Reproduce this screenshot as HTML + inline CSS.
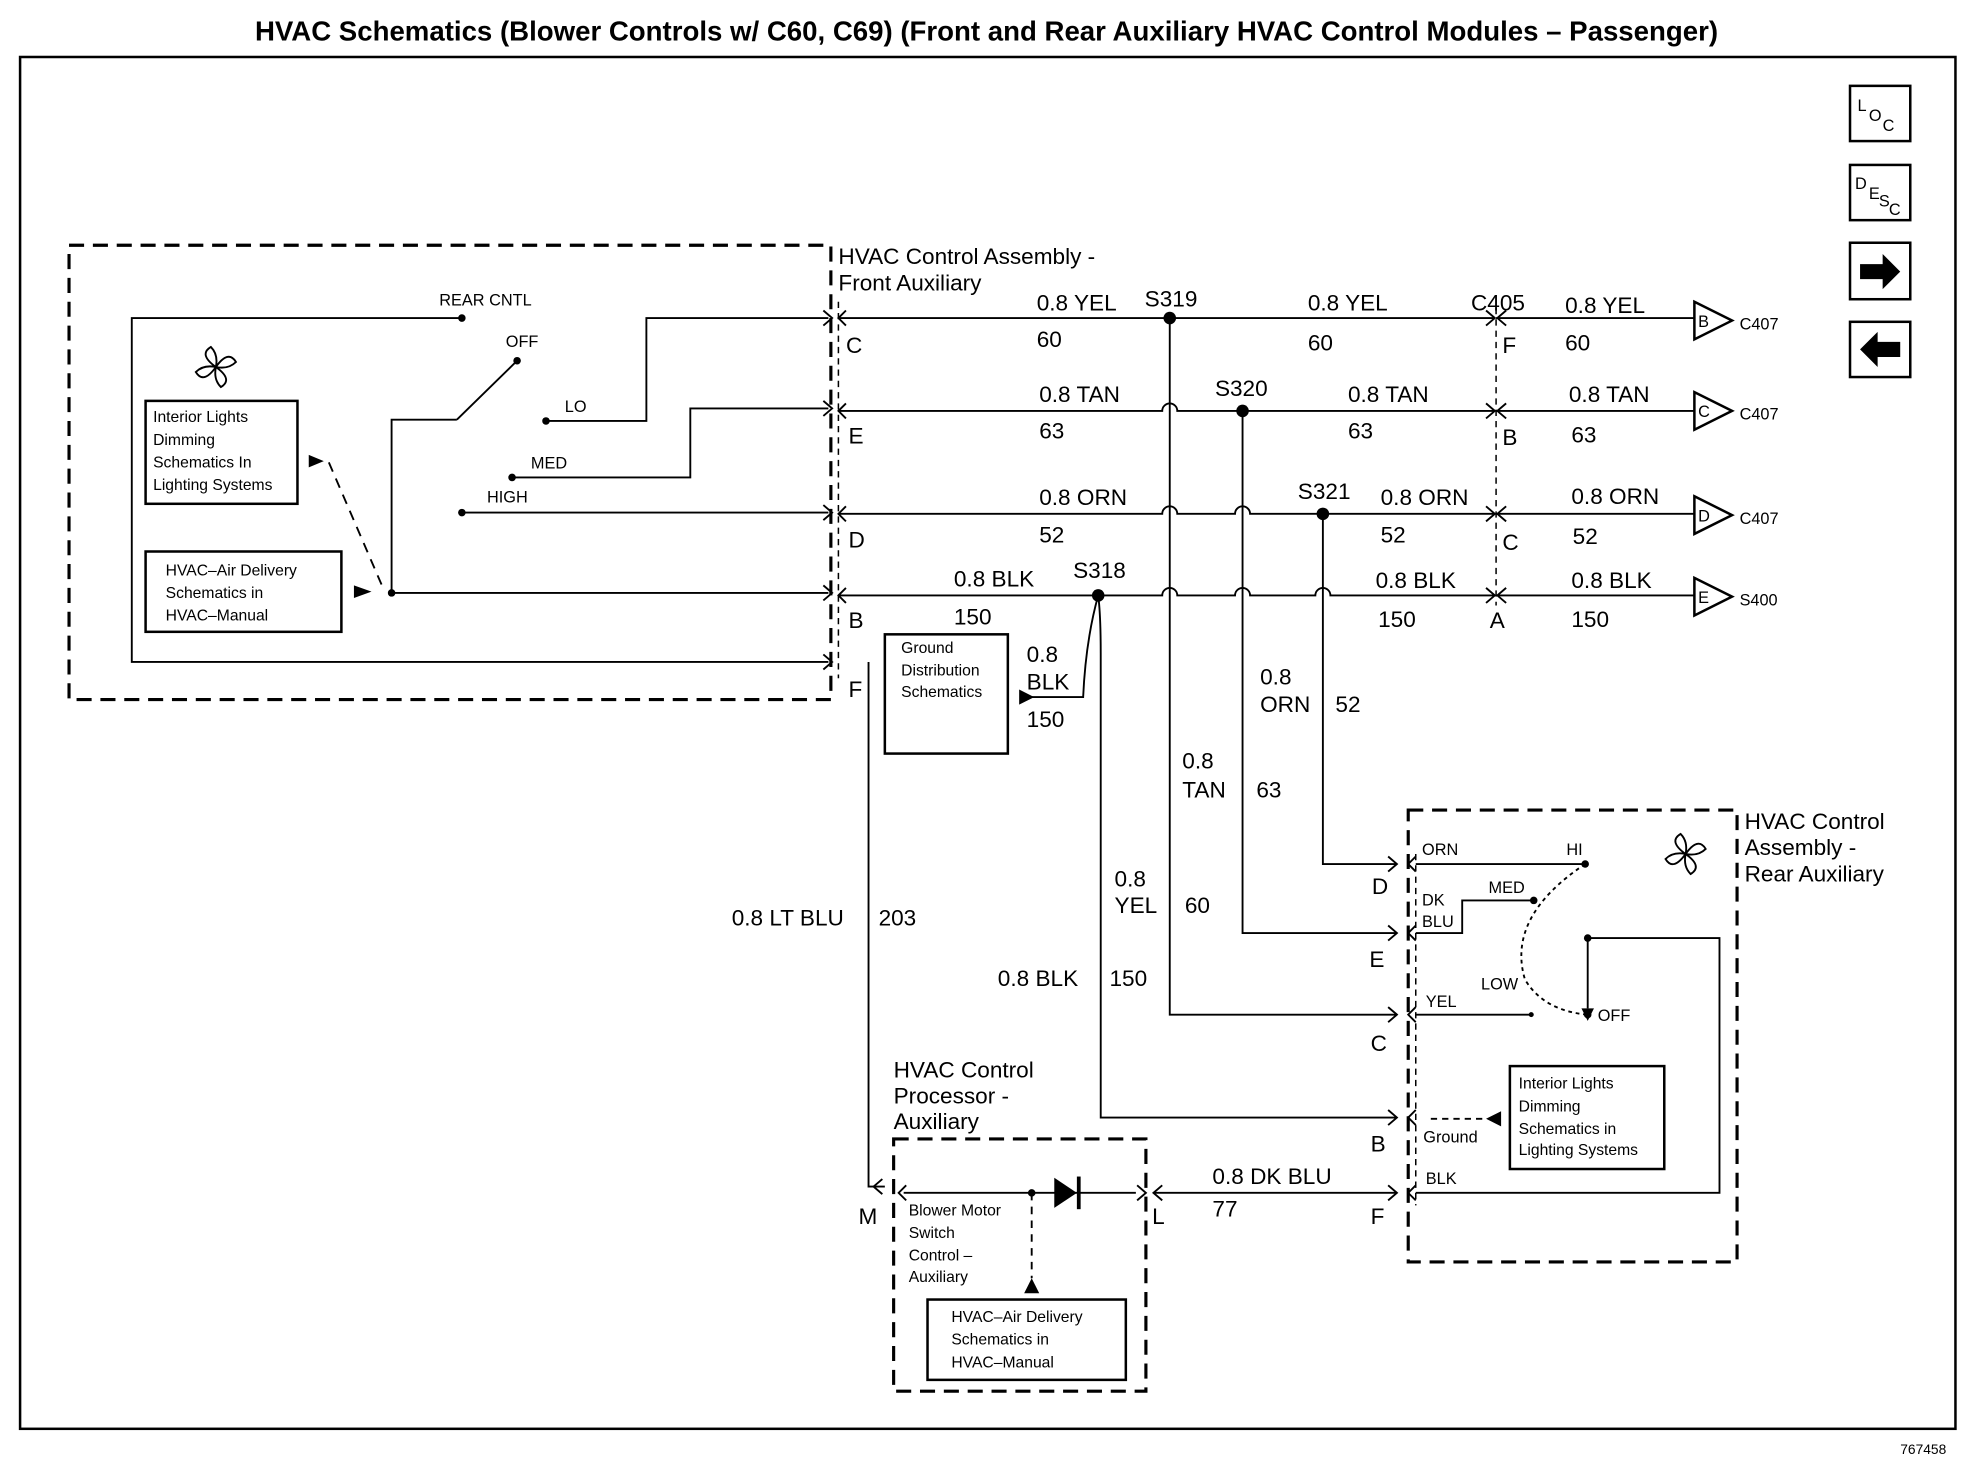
<!DOCTYPE html>
<html><head><meta charset="utf-8"><style>
html,body{margin:0;padding:0;background:#fff;}
svg{display:block;}
text{font-family:"Liberation Sans",Arial,sans-serif;fill:#000;}
</style></head><body>
<svg width="1968" height="1472" viewBox="0 0 1568 1172" xmlns="http://www.w3.org/2000/svg">
<g fill="none" stroke="#000" stroke-width="2">
<rect x="16" y="45" width="1542" height="1093"/>
<rect x="1474" y="68" width="48" height="44"/>
<rect x="1474" y="131" width="48" height="44"/>
<rect x="1474" y="193" width="48" height="45"/>
<rect x="1474" y="256" width="48" height="44"/>
<rect x="55" y="195" width="607" height="362" stroke-dasharray="12,7" stroke-width="2.5"/>
<line x1="668" y1="240" x2="668" y2="540" stroke-dasharray="5,4" stroke-width="1.2"/>
<line x1="1192" y1="245" x2="1192" y2="482" stroke-dasharray="5,4" stroke-width="1.2"/>
<rect x="1122" y="645" width="262" height="360" stroke-dasharray="12,7" stroke-width="2.5"/>
<line x1="1128" y1="680" x2="1128" y2="960" stroke-dasharray="5,4" stroke-width="1.2"/>
<rect x="712" y="907" width="201" height="201" stroke-dasharray="12,7" stroke-width="2.5"/>
<rect x="116" y="319" width="121" height="82"/>
<rect x="116" y="439" width="156" height="64"/>
<rect x="705" y="505" width="98" height="95"/>
<rect x="1203" y="849" width="123" height="82"/>
<rect x="739" y="1035" width="158" height="64"/>
<polyline points="368,253 105,253 105,527 660,527" stroke-width="1.5"/>
<polyline points="435,335 515,335 515,253 660,253" stroke-width="1.5"/>
<polyline points="408,380 550,380 550,325 660,325" stroke-width="1.5"/>
<line x1="368" y1="408" x2="660" y2="408" stroke-width="1.5"/>
<polyline points="364,334 312,334 312,472 660,472" stroke-width="1.5"/>
<line x1="364" y1="334" x2="412" y2="287" stroke-width="1.5"/>
<line x1="262" y1="368" x2="306" y2="470" stroke-dasharray="8,6" stroke-width="1.5"/>
<path d="M668,253 H1190 M1192,253 H1350" stroke-width="1.5"/>
<path d="M668,327 H926 a6,6 0 0 1 12,0 H1190 M1192,327 H1350" stroke-width="1.5"/>
<path d="M668,409 H926 a6,6 0 0 1 12,0 H984 a6,6 0 0 1 12,0 H1190 M1192,409 H1350" stroke-width="1.5"/>
<path d="M668,474 H926 a6,6 0 0 1 12,0 H984 a6,6 0 0 1 12,0 H1048 a6,6 0 0 1 12,0 H1190 M1192,474 H1350" stroke-width="1.5"/>
<polyline points="932,253 932,808 1112,808" stroke-width="1.5"/>
<polyline points="990,327 990,743 1112,743" stroke-width="1.5"/>
<polyline points="1054,409 1054,688 1112,688" stroke-width="1.5"/>
<path d="M875,474 Q877,490 877,520 V890 H1112" stroke-width="1.5"/>
<path d="M875,474 Q865,510 863,555 H820" stroke-width="1.5"/>
<polyline points="692,527 692,945 705,945" stroke-width="1.5"/>
<line x1="920" y1="950" x2="1112" y2="950" stroke-width="1.5"/>
<line x1="720" y1="950" x2="905" y2="950" stroke-width="1.5"/>
<line x1="822" y1="950" x2="822" y2="1018" stroke-dasharray="6,5" stroke-width="1.5"/>
<polyline points="1128,688 1263,688" stroke-width="1.5"/>
<polyline points="1128,743 1165,743 1165,717 1222,717" stroke-width="1.5"/>
<line x1="1128" y1="808" x2="1220" y2="808" stroke-width="1.5"/>
<polyline points="1128,950 1370,950 1370,747 1265,747 1265,803" stroke-width="1.5"/>
<line x1="1140" y1="891" x2="1185" y2="891" stroke-dasharray="5,4" stroke-width="1.5"/>
<path d="M1263,688 Q1200,730 1215,780 Q1230,805 1265,808" stroke-dasharray="3,3" stroke-width="1.5"/>
<path d="M656,247 l7,6 l-7,6 M656,319 l7,6 l-7,6 M656,402 l7,6 l-7,6 M656,466 l7,6 l-7,6 M656,521 l7,6 l-7,6" stroke-width="1.5"/>
<path d="M674,247 l-6,6 l6,6 M674,321 l-6,6 l6,6 M674,403 l-6,6 l6,6 M674,468 l-6,6 l6,6" stroke-width="1.5"/>
<path d="M1184,247 l7,6 l-7,6 M1184,321 l7,6 l-7,6 M1184,403 l7,6 l-7,6 M1184,468 l7,6 l-7,6" stroke-width="1.5"/>
<path d="M1200,247 l-7,6 l7,6 M1200,321 l-7,6 l7,6 M1200,403 l-7,6 l7,6 M1200,468 l-7,6 l7,6" stroke-width="1.5"/>
<path d="M1106,682 l7,6 l-7,6 M1106,737 l7,6 l-7,6 M1106,802 l7,6 l-7,6 M1106,884 l7,6 l-7,6 M1106,944 l7,6 l-7,6" stroke-width="1.5"/>
<path d="M1128,682 l-6,6 l6,6 M1128,737 l-6,6 l6,6 M1128,802 l-6,6 l6,6 M1128,884 l-6,6 l6,6 M1128,944 l-6,6 l6,6" stroke-width="1.5"/>
<path d="M703,939 l-7,6 l7,6 M722,944 l-6,6 l6,6 M906,944 l7,6 l-7,6 M926,944 l-7,6 l7,6" stroke-width="1.5"/>
<polygon points="1350,240 1380,255 1350,270" fill="#fff"/>
<polygon points="1350,312 1380,327 1350,342" fill="#fff"/>
<polygon points="1350,395 1380,410 1350,425" fill="#fff"/>
<polygon points="1350,460 1380,475 1350,490" fill="#fff"/>
<path d="M172,292 q-14,-10 -4,-16 q6,6 4,16 q10,-14 16,-4 q-6,6 -16,4 q14,10 4,16 q-6,-6 -4,-16 q-10,14 -16,4 q6,-6 16,-4 z" stroke-width="1.5"/>
<path d="M1343,680 q-14,-10 -4,-16 q6,6 4,16 q10,-14 16,-4 q-6,6 -16,4 q14,10 4,16 q-6,-6 -4,-16 q-10,14 -16,4 q6,-6 16,-4 z" stroke-width="1.5"/>
</g>
<path d="M1482,210 h18 v-8 l14,14 l-14,14 v-8 h-18 z" fill="#000"/>
<path d="M1514,272 h-18 v-8 l-14,14 l14,14 v-8 h18 z" fill="#000"/>
<g fill="#000">
<circle cx="932" cy="253" r="5"/><circle cx="990" cy="327" r="5"/><circle cx="1054" cy="409" r="5"/><circle cx="875" cy="474" r="5"/>
<circle cx="368" cy="253" r="3"/><circle cx="412" cy="287" r="3"/><circle cx="435" cy="335" r="3"/><circle cx="408" cy="380" r="3"/><circle cx="368" cy="408" r="3"/><circle cx="312" cy="472" r="3"/>
<circle cx="1263" cy="688" r="3"/><circle cx="1222" cy="717" r="3"/><circle cx="1220" cy="808" r="2"/><circle cx="1265" cy="747" r="3"/><circle cx="1265" cy="808" r="3"/>
<circle cx="822" cy="950" r="3"/>
<polygon points="246,362 258,367 246,372"/><polygon points="282,466 296,471 282,476"/>
<polygon points="812,549 824,555 812,561"/>
<polygon points="1196,885 1184,891 1196,897"/>
<polygon points="816,1030 822,1018 828,1030"/>
<polygon points="1260,803 1265,813 1270,803"/>
<polygon points="840,938 858,950 840,962"/>
<rect x="858" y="937" width="3" height="26"/>
</g>
<text x="786" y="32" font-size="22" font-weight="bold" text-anchor="middle">HVAC Schematics (Blower Controls w/ C60, C69) (Front and Rear Auxiliary HVAC Control Modules – Passenger)</text>
<text x="1480" y="88" font-size="13">L</text><text x="1489" y="96" font-size="13">O</text><text x="1500" y="104" font-size="13">C</text>
<text x="1478" y="150" font-size="13">D</text><text x="1489" y="158" font-size="13">E</text><text x="1497" y="164" font-size="13">S</text><text x="1505" y="171" font-size="13">C</text>
<text x="1514" y="1158" font-size="11">767458</text>
<g font-size="18">
<text x="668" y="210">HVAC Control Assembly -</text><text x="668" y="231">Front Auxiliary</text>
<text x="1390" y="660">HVAC Control</text><text x="1390" y="681">Assembly -</text><text x="1390" y="702">Rear Auxiliary</text>
<text x="712" y="858">HVAC Control</text><text x="712" y="879">Processor -</text><text x="712" y="899">Auxiliary</text>
<text x="826" y="247">0.8 YEL</text><text x="826" y="276">60</text>
<text x="912" y="244">S319</text>
<text x="1042" y="247">0.8 YEL</text><text x="1042" y="279">60</text>
<text x="1172" y="247">C405</text>
<text x="1247" y="249">0.8 YEL</text><text x="1247" y="279">60</text>
<text x="828" y="320">0.8 TAN</text><text x="828" y="349">63</text>
<text x="968" y="315">S320</text>
<text x="1074" y="320">0.8 TAN</text><text x="1074" y="349">63</text>
<text x="1250" y="320">0.8 TAN</text><text x="1252" y="352">63</text>
<text x="828" y="402">0.8 ORN</text><text x="828" y="432">52</text>
<text x="1034" y="397">S321</text>
<text x="1100" y="402">0.8 ORN</text><text x="1100" y="432">52</text>
<text x="1252" y="401">0.8 ORN</text><text x="1253" y="433">52</text>
<text x="760" y="467">0.8 BLK</text><text x="760" y="497">150</text>
<text x="855" y="460">S318</text>
<text x="1096" y="468">0.8 BLK</text><text x="1098" y="499">150</text>
<text x="1252" y="468">0.8 BLK</text><text x="1252" y="499">150</text>
<text x="674" y="281">C</text><text x="676" y="353">E</text><text x="676" y="436">D</text><text x="676" y="500">B</text><text x="676" y="555">F</text>
<text x="1197" y="281">F</text><text x="1197" y="354">B</text><text x="1197" y="438">C</text><text x="1187" y="500">A</text>
<text x="818" y="527">0.8</text><text x="818" y="549">BLK</text><text x="818" y="579">150</text>
<text x="1004" y="545">0.8</text><text x="1004" y="567">ORN</text><text x="1064" y="567">52</text>
<text x="942" y="612">0.8</text><text x="942" y="635">TAN</text><text x="1001" y="635">63</text>
<text x="888" y="706">0.8</text><text x="888" y="727">YEL</text><text x="944" y="727">60</text>
<text x="583" y="737">0.8 LT BLU</text><text x="700" y="737">203</text>
<text x="795" y="785">0.8 BLK</text><text x="884" y="785">150</text>
<text x="966" y="943">0.8 DK BLU</text><text x="966" y="969">77</text>
<text x="1093" y="712">D</text><text x="1091" y="770">E</text><text x="1092" y="837">C</text><text x="1092" y="917">B</text><text x="1092" y="975">F</text>
<text x="684" y="975">M</text><text x="918" y="975">L</text>
</g>
<g font-size="13">
<text x="1386" y="262">C407</text><text x="1386" y="334">C407</text><text x="1386" y="417">C407</text><text x="1386" y="482">S400</text>
<text x="1353" y="260">B</text><text x="1353" y="332">C</text><text x="1353" y="415">D</text><text x="1353" y="480">E</text>
<text x="350" y="243">REAR CNTL</text><text x="403" y="276">OFF</text><text x="450" y="328">LO</text><text x="423" y="373">MED</text><text x="388" y="400">HIGH</text>
<text x="1133" y="681">ORN</text><text x="1248" y="681">HI</text><text x="1133" y="721">DK</text><text x="1133" y="738">BLU</text><text x="1186" y="711">MED</text>
<text x="1180" y="788">LOW</text><text x="1136" y="802">YEL</text><text x="1273" y="813">OFF</text>
<text x="1134" y="910">Ground</text><text x="1136" y="943">BLK</text>
</g>
<g font-size="12.5">
<text x="122" y="336">Interior Lights</text><text x="122" y="354">Dimming</text><text x="122" y="372">Schematics In</text><text x="122" y="390">Lighting Systems</text>
<text x="132" y="458">HVAC–Air Delivery</text><text x="132" y="476">Schematics in</text><text x="132" y="494">HVAC–Manual</text>
<text x="718" y="520">Ground</text><text x="718" y="538">Distribution</text><text x="718" y="555">Schematics</text>
<text x="1210" y="867">Interior Lights</text><text x="1210" y="885">Dimming</text><text x="1210" y="903">Schematics in</text><text x="1210" y="920">Lighting Systems</text>
<text x="758" y="1053">HVAC–Air Delivery</text><text x="758" y="1071">Schematics in</text><text x="758" y="1089">HVAC–Manual</text>
<text x="724" y="968">Blower Motor</text><text x="724" y="986">Switch</text><text x="724" y="1004">Control –</text><text x="724" y="1021">Auxiliary</text>
</g>
</svg>
</body></html>
